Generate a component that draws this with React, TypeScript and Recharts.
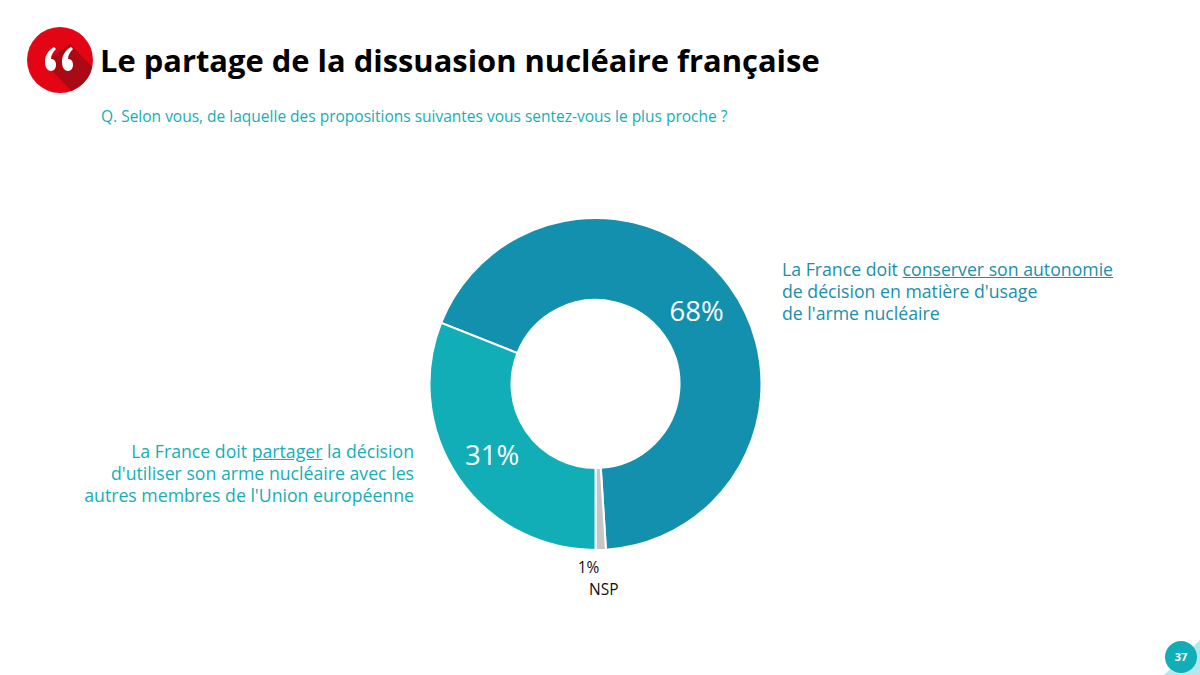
import React from "react";
import { PieChart, Pie, Cell } from "recharts";

const categories = ["Conserver son autonomie", "NSP", "Partager"];
const values = [68, 1, 31];
const colors = ["#1390AE", "#C6C6C6", "#11AEB8"];
const font = "'Open Sans', sans-serif";
const RAD = Math.PI / 180;

const rows = categories.map((name, i) => ({ name, value: values[i] }));

function renderLabel(p: any) {
  const r = (p.innerRadius + p.outerRadius) / 2;
  const x = p.cx + r * Math.cos(-p.midAngle * RAD);
  const y = p.cy + r * Math.sin(-p.midAngle * RAD);
  if (p.index === 1) {
    return (
      <text x={p.cx - 7} y={p.cy + p.outerRadius + 17} textAnchor="middle" dominantBaseline="central" fontFamily={font} fontSize={15.5} fill="#111">
        {p.value}%
      </text>
    );
  }
  return (
    <text x={x} y={y} textAnchor="middle" dominantBaseline="central" fontFamily={font} fontSize={27.5} fill="#fff">
      {p.value}%
    </text>
  );
}

const abs = (left: number, top: number, extra: React.CSSProperties = {}): React.CSSProperties => ({
  position: "absolute",
  left,
  top,
  fontFamily: font,
  whiteSpace: "nowrap",
  ...extra,
});

export default function App() {
  return (
    <div style={{ position: "absolute", left: 0, top: 0, width: 1200, height: 675, background: "#fff", overflow: "hidden" }}>
      <svg width={80} height={80} style={{ position: "absolute", left: 20, top: 20 }}>
        <defs>
          <clipPath id="c"><circle cx={40} cy={40} r={33} /></clipPath>
        </defs>
        <circle cx={40} cy={40} r={33} fill="#E30513" />
        <path d="M24 42 L50 24 L80 55 L60 80 Z" fill="#A90A16" clipPath="url(#c)" />
        <path d="M34 27 C27 31 25 37 25 42 C25 48 28 51 31 51 C34 51 36 48 36 45 C36 41 34 39 31 39 C31 35 33 32 36 29 Z" fill="#fff" />
        <path d="M51 27 C44 31 42 37 42 42 C42 48 45 51 48 51 C51 51 53 48 53 45 C53 41 51 39 48 39 C48 35 50 32 53 29 Z" fill="#fff" />
      </svg>
      <div style={abs(100, 38, { fontSize: 30.9, fontWeight: 700, color: "#000", lineHeight: "44px" })}>
        Le partage de la dissuasion nucléaire française
      </div>
      <div style={abs(101, 105, { fontSize: 15.5, color: "#14AEB6", lineHeight: "22px" })}>
        Q. Selon vous, de laquelle des propositions suivantes vous sentez-vous le plus proche ?
      </div>
      <div style={{ position: "absolute", left: 0, top: 0 }}>
        <PieChart width={1200} height={675} margin={{ top: 0, right: 0, bottom: 0, left: 0 }}>
          <Pie
            data={rows}
            dataKey="value"
            nameKey="name"
            cx={595.5}
            cy={384}
            innerRadius={84}
            outerRadius={166}
            startAngle={158.4}
            endAngle={-201.6}
            stroke="#fff"
            strokeWidth={2}
            isAnimationActive={false}
            label={renderLabel}
            labelLine={false}
          >
            {rows.map((r, i) => (
              <Cell key={r.name} fill={colors[i]} />
            ))}
          </Pie>
        </PieChart>
      </div>
      <div style={abs(782, 258, { fontSize: 17.7, color: "#1A8FA8", lineHeight: "22px" })}>
        La France doit <u>conserver son autonomie</u>
        <br />de décision en matière d'usage
        <br />de l'arme nucléaire
      </div>
      <div style={abs(0, 440, { width: 414, textAlign: "right", fontSize: 17.7, color: "#14AEB6", lineHeight: "22px" })}>
        La France doit <u>partager</u> la décision
        <br />d'utiliser son arme nucléaire avec les
        <br />autres membres de l'Union européenne
      </div>
      <div style={abs(589, 581, { fontSize: 15.5, color: "#111", lineHeight: "16px" })}>NSP</div>
      <svg width={40} height={40} style={{ position: "absolute", left: 1160, top: 635 }}>
        <path d="M4 40 L40 5 L40 40 Z" fill="#B5E8EA" />
      </svg>
      <div style={{ ...abs(1165, 641), width: 32, height: 32, borderRadius: 16, background: "#11AEB8", color: "#fff", fontSize: 11, fontWeight: 700, textAlign: "center", lineHeight: "32px" }}>
        37
      </div>
    </div>
  );
}
